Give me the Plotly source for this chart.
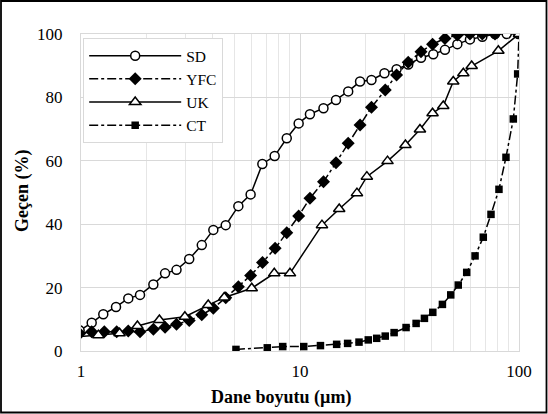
import plotly.graph_objects as go

# ---- data ----
sd_x = [0.986, 1.119, 1.264, 1.445, 1.644, 1.86, 2.14, 2.42, 2.73, 3.12, 3.56, 4.02, 4.58, 5.23, 5.95,
        6.73, 7.66, 8.70, 9.86, 11.1, 12.8, 14.6, 16.6, 18.8, 21.2, 24.3, 27.6, 31.2, 35.7, 40.6, 45.9,
        52.3, 59.7, 68.0, 77.7, 87.9, 99.5]
sd_y = [6.5, 8.9, 11.6, 13.9, 16.6, 17.7, 21.0, 24.5, 25.6, 29.0, 33.4, 38.2, 39.7, 45.7, 49.4,
        59.0, 61.5, 67.1, 71.8, 74.7, 76.6, 79.2, 81.9, 85.0, 85.5, 87.6, 88.9, 90.4, 92.5, 93.6, 95.0,
        96.8, 98.3, 99.1, 100, 100, 100]

yfc_x = [0.986, 1.119, 1.278, 1.455, 1.644, 1.86, 2.14, 2.42, 2.73, 3.12, 3.56, 4.02, 4.58, 5.23, 5.95,
         6.74, 7.7, 8.70, 9.86, 11.1, 12.8, 14.6, 16.6, 18.8, 21.2, 24.5, 27.6, 31.2, 35.7, 40.3, 45.9,
         52.3, 59.7, 68.0, 77.7]
yfc_y = [5.5, 6.1, 6.1, 6.1, 6.3, 6.1, 6.9, 7.5, 8.4, 9.6, 11.4, 13.5, 16.8, 20.3, 23.8,
         27.9, 32.4, 37.3, 42.6, 48.2, 53.4, 59.4, 65.5, 71.3, 76.9, 82.3, 87.1, 91.1, 94.4, 96.8, 98.6,
         99.7, 100, 100, 100]

uk_x = [0.9, 1.2, 1.5, 1.81, 2.28, 2.98, 3.81, 4.51, 6.02, 7.63, 9.0, 12.6, 15.1, 18.2, 20.2, 25.1,
        30.3, 35.3, 40.3, 45.1, 50.1, 55.7, 60.8, 80.5, 100]
uk_y = [4.3, 5.0, 5.6, 7.9, 9.8, 10.8, 14.5, 16.9, 19.8, 24.5, 24.5, 39.7, 44.8, 49.8, 55.0, 59.9,
        65.0, 69.9, 75.0, 77.3, 85.0, 87.6, 89.9, 94.7, 100]

ct_x = [5.10, 7.09, 8.34, 10.4, 12.4, 14.7, 16.5, 18.6, 20.5, 22.4, 24.5, 26.9, 30.5, 33.9, 37.0,
        40.4, 44.7, 48.8, 52.8, 57.7, 63.0, 68.7, 74.5, 81.0, 87.2, 94.2, 98.6, 100]
ct_y = [0.5, 1.0, 1.4, 1.4, 1.7, 2.1, 2.4, 2.8, 3.5, 4.0, 4.7, 5.8, 7.4, 8.7, 10.3,
        12.2, 14.7, 17.7, 20.8, 24.8, 30.0, 35.9, 43.1, 51.0, 61.1, 73.2, 87.4, 100]

x_ticks = [1, 10, 100]
x_ticktext = ["1", "10", "100"]
y_ticks = [0, 20, 40, 60, 80, 100]

FONT = "Liberation Serif"

fig = go.Figure()
fig.add_trace(go.Scatter(x=sd_x, y=sd_y, name="SD", mode="lines+markers", legendrank=1,
                         line=dict(color="black", width=1.5),
                         marker=dict(symbol="circle", size=9, color="white",
                                     line=dict(color="black", width=1.5))))
fig.add_trace(go.Scatter(x=yfc_x, y=yfc_y, name="YFC", mode="lines+markers", legendrank=2,
                         line=dict(color="black", width=1.5, dash="dashdot"),
                         marker=dict(symbol="diamond", size=10, color="black")))
fig.add_trace(go.Scatter(x=ct_x, y=ct_y, name="CT", mode="lines+markers", legendrank=4,
                         line=dict(color="black", width=1.5, dash="dashdot"),
                         marker=dict(symbol="square", size=7.5, color="black")))
fig.add_trace(go.Scatter(x=uk_x, y=uk_y, name="UK", mode="lines+markers", legendrank=3,
                         line=dict(color="black", width=1.5),
                         marker=dict(symbol="triangle-up", size=10, color="white",
                                     line=dict(color="black", width=1.5))))

fig.update_layout(
    width=548, height=414,
    margin=dict(l=81, r=29, t=34, b=63),
    paper_bgcolor="white", plot_bgcolor="white",
    font=dict(family=FONT, size=15.5, color="black"),
    showlegend=True,
    legend=dict(x=0.005, y=0.987, xanchor="left", yanchor="top",
                bgcolor="white", bordercolor="#d9d9d9", borderwidth=1,
                font=dict(family=FONT, size=15.5), itemwidth=92,
                tracegroupgap=0),
    xaxis=dict(type="log", range=[0, 2], tickvals=x_ticks, ticktext=x_ticktext,
               showgrid=True, gridcolor="#d9d9d9", gridwidth=1,
               minor=dict(dtick="D1", showgrid=True, gridcolor="#e6e6e6", gridwidth=1, ticks=""),
               showline=True, linecolor="#d9d9d9", linewidth=1, mirror=True,
               ticks="", ticklabelstandoff=5, zeroline=False,
               tickfont=dict(family=FONT, size=17)),
    yaxis=dict(range=[0, 100], tickvals=y_ticks,
               showgrid=True, gridcolor="#d9d9d9", gridwidth=1,
               showline=True, linecolor="#d9d9d9", linewidth=1, mirror=True,
               ticks="", ticklabelstandoff=14, zeroline=False,
               tickfont=dict(family=FONT, size=17)),
    annotations=[
        dict(text="<b>Dane boyutu (µm)</b>", xref="paper", yref="paper",
             x=(281 - 81) / 438, y=(351 - 397) / 317, showarrow=False,
             xanchor="center", yanchor="middle", font=dict(family=FONT, size=18)),
        dict(text="<b>Geçen (%)</b>", xref="paper", yref="paper",
             x=(22 - 81) / 438, y=(351 - 191) / 317, showarrow=False, textangle=-90,
             xanchor="center", yanchor="middle", font=dict(family=FONT, size=18)),
    ],
    shapes=[
        dict(type="rect", xref="paper", yref="paper",
             x0=(1 - 81) / 438, x1=(546.5 - 81) / 438,
             y0=(351 - 412.5) / 317, y1=(351 - 1) / 317,
             line=dict(color="black", width=1.8), fillcolor="rgba(0,0,0,0)", layer="above"),
    ],
)

fig.write_html("out.html")
